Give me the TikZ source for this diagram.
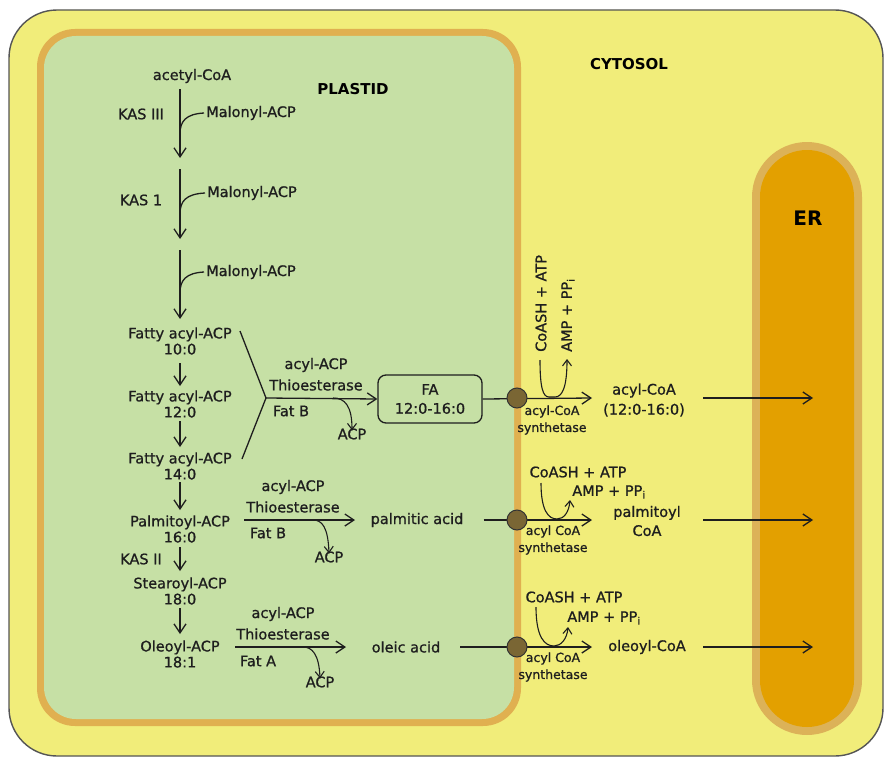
\documentclass[tikz,border=0pt]{standalone}
\usepackage{fontspec}
\setmainfont{DejaVu Sans}
\newfontfamily\heavysans{DejaVu Sans}[FakeBold=0.9]
\usetikzlibrary{arrows.meta}
\definecolor{cyto}{RGB}{241,237,122}
\definecolor{leaf}{RGB}{198,224,165}
\definecolor{rim}{RGB}{224,176,80}
\definecolor{errim}{RGB}{220,178,88}
\definecolor{erin}{RGB}{227,160,0}
\definecolor{ink}{RGB}{30,30,30}
\definecolor{pore}{RGB}{122,102,52}
\definecolor{cellline}{RGB}{85,85,85}
\newcommand\txtmain{\heavysans\fontsize{14.5bp}{16bp}\selectfont}
\newcommand\txtsmall{\heavysans\fontsize{12.5bp}{17bp}\selectfont}
\tikzset{
  lab/.style={font=\txtmain, text=ink, inner sep=0pt, align=center},
  small/.style={font=\txtsmall, text=ink, inner sep=0pt, align=center},
  title/.style={font=\fontsize{15bp}{17bp}\selectfont\bfseries, text=black, inner sep=0pt},
  ln/.style={line width=1.3bp, draw=ink},
  arr/.style={ln, -{Straight Barb[length=9bp,width=12bp,line width=1.3bp]}},
  sarr/.style={ln, line width=1.1bp, -{Straight Barb[length=6bp,width=9bp,line width=1.1bp]}},
  porenode/.style={circle, fill=pore, draw=black!80, line width=1bp, minimum size=20bp, inner sep=0pt},
  fabox/.style={draw=ink, line width=1.3bp, rounded corners=8bp, minimum width=104bp, minimum height=48bp, inner sep=0pt, align=center, font=\txtmain, text=ink}
}
\begin{document}
\begin{tikzpicture}[x=1bp,y=-1bp]
\useasboundingbox (0,0) rectangle (885,758);
\fill[white] (0,0) rectangle (885,758);
% cell with cytosol
\draw[draw=cellline, line width=1.4bp, fill=cyto, rounded corners=48bp] (9,10) rectangle (883,756);
% plastid envelope
\fill[rim, rounded corners=38bp] (37,29) rectangle (521,726);
\fill[leaf, rounded corners=32bp] (44,36) rectangle (514,719);
% endoplasmic reticulum
\fill[errim, rounded corners=55bp] (752,142) rectangle (862,735);
\fill[erin, rounded corners=47bp] (760,150) rectangle (854,727);

% compartment titles
\node[title] (tplastid) at (353,89) {PLASTID};
\node[title] (tcytosol) at (629,64) {CYTOSOL};
\node[title, font=\fontsize{20bp}{22bp}\selectfont\bfseries] (ter) at (808,218) {ER};

% elongation in the plastid
\node[lab] (acetyl) at (192,76) {acetyl-CoA};
\node[lab] (kas3) at (141,114) {KAS III};
\node[lab, anchor=west] (mal1) at (206,113) {Malonyl-ACP};
\node[lab] (kas1) at (141,200) {KAS 1};
\node[lab, anchor=west] (mal2) at (207,193) {Malonyl-ACP};
\node[lab, anchor=west] (mal3) at (206,272) {Malonyl-ACP};
\node[lab] (fa10) at (180,341) {Fatty acyl-ACP\\10:0};
\node[lab] (fa12) at (180,404) {Fatty acyl-ACP\\12:0};
\node[lab] (fa14) at (180,466) {Fatty acyl-ACP\\14:0};
\node[lab] (palm) at (180,529) {Palmitoyl-ACP\\16:0};
\node[lab] (kas2) at (141,559) {KAS II};
\node[lab] (stear) at (180,591) {Stearoyl-ACP\\18:0};
\node[lab] (oleo) at (180,654) {Oleoyl-ACP\\18:1};

\coordinate (s1a) at (180,89);  \coordinate (s1b) at (180,158);
\coordinate (s2a) at (180,169); \coordinate (s2b) at (180,239);
\coordinate (s3a) at (180,250); \coordinate (s3b) at (180,319);
\draw[arr] (s1a) -- (s1b);
\draw[arr] (s2a) -- (s2b);
\draw[arr] (s3a) -- (s3b);
\draw[ln] ([xshift=-2bp]mal1.west) .. controls (186,114) and (180,121) .. (180,134);
\draw[ln] ([xshift=-2bp]mal2.west) .. controls (186,194) and (180,201) .. (180,214);
\draw[ln] ([xshift=-2bp]mal3.west) .. controls (186,273) and (180,280) .. (180,293);

\draw[arr] (180,363) -- (180,386);
\draw[arr] (180,421) -- (180,447);
\draw[arr] (180,482) -- (180,510);
\draw[arr] (180,547) -- (180,571);
\draw[arr] (180,608) -- (180,634);

% thioesterase Fat B on 10:0 - 14:0
\coordinate (fk) at (266,398);
\coordinate (fkup) at (240,331);
\coordinate (fklo) at (242,459);
\node[fabox] (fa) at (430,399) {FA\\[3bp]12:0-16:0};
\draw[ln] (fkup) -- (fk) -- (fklo);
\draw[arr] (fk) -- (fa.west);
\node[lab] (ta1) at (316,365) {acyl-ACP};
\node[lab] (tb1) at (316,385) {Thioesterase};
\node[lab] (tc1) at (291,411) {Fat B};
\node[lab] (acp1) at (352,434) {ACP};
\coordinate (r1) at (333,398);
\draw[sarr] (r1) .. controls (345,398) and (352,406) .. ([yshift=-2bp]acp1.north);

% thioesterase Fat B on 16:0
\node[lab] (palmacid) at (417,520) {palmitic acid};
\coordinate (p2s) at (244,520);
\coordinate (p2e) at (355,520);
\draw[arr] (p2s) -- (p2e);
\node[lab] (ta2) at (293,487) {acyl-ACP};
\node[lab] (tb2) at (293,507) {Thioesterase};
\node[lab] (tc2) at (268,533) {Fat B};
\node[lab] (acp2) at (329,557) {ACP};
\coordinate (r2) at (313,520);
\draw[sarr] (r2) .. controls (322,520) and (328,527) .. ([yshift=-2bp]acp2.north);

% thioesterase Fat A on 18:1
\node[lab] (oleacid) at (406,647) {oleic acid};
\coordinate (p3s) at (235,647);
\coordinate (p3e) at (346,647);
\draw[arr] (p3s) -- (p3e);
\node[lab] (ta3) at (283,614) {acyl-ACP};
\node[lab] (tb3) at (283,634) {Thioesterase};
\node[lab] (tc3) at (258,661) {Fat A};
\node[lab] (acp3) at (320,682) {ACP};
\coordinate (r3) at (303,647);
\draw[sarr] (r3) .. controls (312,647) and (319,654) .. ([yshift=-2bp]acp3.north);

% export through the envelope: acyl-CoA synthetase
\coordinate (e1) at (592,398);
\coordinate (e2) at (592,520);
\coordinate (e3) at (592,647);
\draw[arr] (fa.east) -- (e1);
\draw[arr] (palmacid.east) ++(20bp,0) coordinate (q2) (q2) -- (e2);
\draw[arr] (oleacid.east) ++(20bp,0) coordinate (q3) (q3) -- (e3);
\node[porenode] (pore1) at (517,398) {};
\node[porenode] (pore2) at (517,520) {};
\node[porenode] (pore3) at (517,647) {};

\node[small] (syn1) at (552,420) {acyl-CoA\\synthetase};
\node[small] (syn2) at (553,540) {acyl CoA\\synthetase};
\node[small] (syn3) at (553,667) {acyl CoA\\synthetase};

% cofactors, row 1 (written upright)
\node[lab, rotate=90, anchor=west] (co1) at (541,352) {CoASH + ATP};
\node[lab, rotate=90, anchor=west] (am1) at (568,352) {AMP + PP\textsubscript{i}};
\draw[sarr] (540,360) .. controls (540,388) and (543,397) .. (549,397) -- (555,397) .. controls (562,397) and (567,388) .. (567,359);

% cofactors, row 2
\node[lab] (co2) at (578,472) {CoASH + ATP};
\node[lab] (am2) at (609,492) {AMP + PP\textsubscript{i}};
\draw[sarr] (541,483) .. controls (541,510) and (548,519) .. (557,519) .. controls (564,519) and (569,512) .. (570,500);

% cofactors, row 3
\node[lab] (co3) at (574,597) {CoASH + ATP};
\node[lab] (am3) at (604,618) {AMP + PP\textsubscript{i}};
\draw[sarr] (536,607) .. controls (536,638) and (545,646) .. (554,646) .. controls (561,646) and (567,639) .. (568,627);

% acyl-CoA products and transfer to the ER
\node[lab] (acoa1) at (644,400) {acyl-CoA\\[4bp](12:0-16:0)};
\node[lab] (acoa2) at (647,521) {palmitoyl\\[3bp]CoA};
\node[lab] (acoa3) at (647,647) {oleoyl-CoA};
\coordinate (er1) at (813,398);
\coordinate (er2) at (813,520);
\coordinate (er3) at (813,647);
\draw[arr] (703,398) -- (er1);
\draw[arr] (703,520) -- (er2);
\draw[arr] (703,647) -- (er3);
\end{tikzpicture}
\end{document}
